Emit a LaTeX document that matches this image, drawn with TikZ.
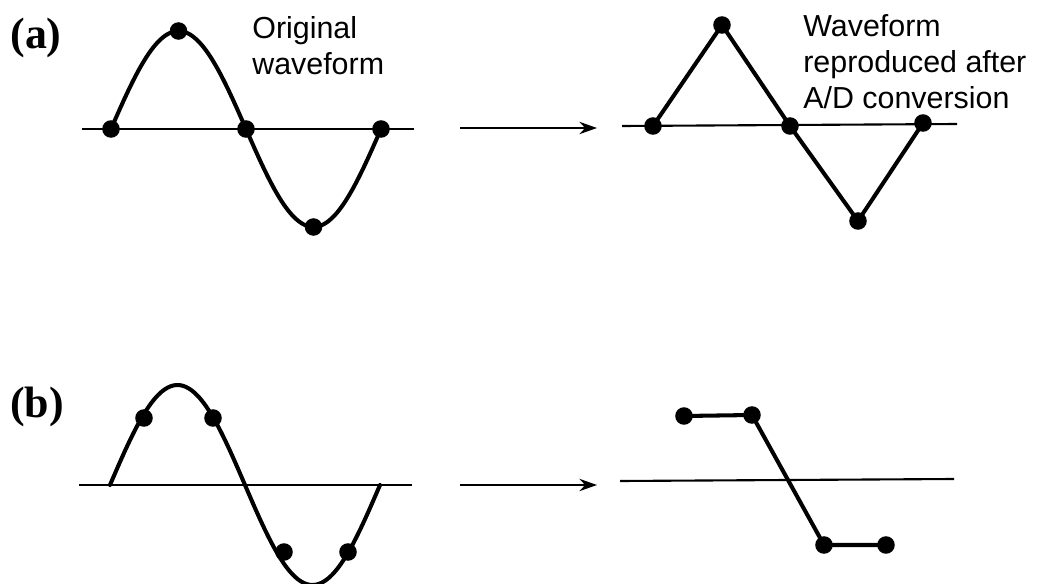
\documentclass[tikz,border=0pt]{standalone}
\usepackage{fontspec}
\setmainfont{Liberation Serif}
\setsansfont{Liberation Sans}
\usetikzlibrary{arrows.meta, positioning}

\begin{document}
\begin{tikzpicture}[
    x=0.02cm, y=-0.02cm,
    sample/.style={circle, fill=black, inner sep=0pt, minimum size=10pt},
    wave/.style={line width=2.3pt, line join=round, line cap=round},
    axisline/.style={line width=1.2pt},
    arrow/.style={draw, line width=1.2pt, -{Stealth[length=10pt, width=7pt]}},
    partname/.style={font=\fontsize{25}{28}\selectfont\bfseries},
    note/.style={anchor=north west, inner sep=0pt, align=left, font=\sffamily\fontsize{17.3}{20.5}\selectfont}
]
\useasboundingbox (0,0) rectangle (1048,584);

% (a) original waveform
\node[partname] (parta) at (36,38) {(a)};
\coordinate (a-ax1) at (82,129);
\coordinate (a-ax2) at (414,129);
\draw[axisline] (a-ax1) -- (a-ax2);
\draw[wave] plot[domain=0:360, samples=90, smooth] ({111+0.75*\x}, {129-98*sin(\x)});
\node[sample] (a1) at (111,129) {};
\node[sample] (a2) at (178.5,31) {};
\node[sample] (a3) at (246,129) {};
\node[sample] (a4) at (313.5,227) {};
\node[sample] (a5) at (381,129) {};
\node[note] (aorig) at (252,16) {Original\\waveform};

% (a) reproduced
\coordinate (a-ar1) at (460,128);
\coordinate (a-ar2) at (597,128);
\draw[arrow] (a-ar1) -- (a-ar2);
\coordinate (a-bx1) at (622,126);
\coordinate (a-bx2) at (957,124);
\draw[axisline] (a-bx1) -- (a-bx2);
\node[sample] (ar1) at (653,126) {};
\node[sample] (ar2) at (722,25) {};
\node[sample] (ar3) at (790,126) {};
\node[sample] (ar4) at (858,221) {};
\node[sample] (ar5) at (923,123) {};
\draw[wave] (ar1.center) -- (ar2.center) -- (ar3.center) -- (ar4.center) -- (ar5.center);
\node[note] (arepr) at (803,14) {Waveform\\reproduced after\\A/D conversion};

% (b) original waveform
\node[partname] (partb) at (37,407) {(b)};
\coordinate (b-ax1) at (79,485);
\coordinate (b-ax2) at (412,485);
\draw[axisline] (b-ax1) -- (b-ax2);
\draw[wave] plot[domain=0:360, samples=90, smooth] ({110+0.75*\x}, {485-100*sin(\x)});
\node[sample] (b1) at (144,418) {};
\node[sample] (b2) at (213,418) {};
\node[sample] (b3) at (284,552) {};
\node[sample] (b4) at (348,552) {};

% (b) reproduced
\coordinate (b-ar1) at (460,485);
\coordinate (b-ar2) at (597,485);
\draw[arrow] (b-ar1) -- (b-ar2);
\coordinate (b-bx1) at (620,481);
\coordinate (b-bx2) at (954,479);
\draw[axisline] (b-bx1) -- (b-bx2);
\node[sample] (br1) at (684,416) {};
\node[sample] (br2) at (752,415) {};
\node[sample] (br3) at (824,545) {};
\node[sample] (br4) at (886,545) {};
\draw[wave] (br1.center) -- (br2.center) -- (br3.center) -- (br4.center);

\end{tikzpicture}
\end{document}
